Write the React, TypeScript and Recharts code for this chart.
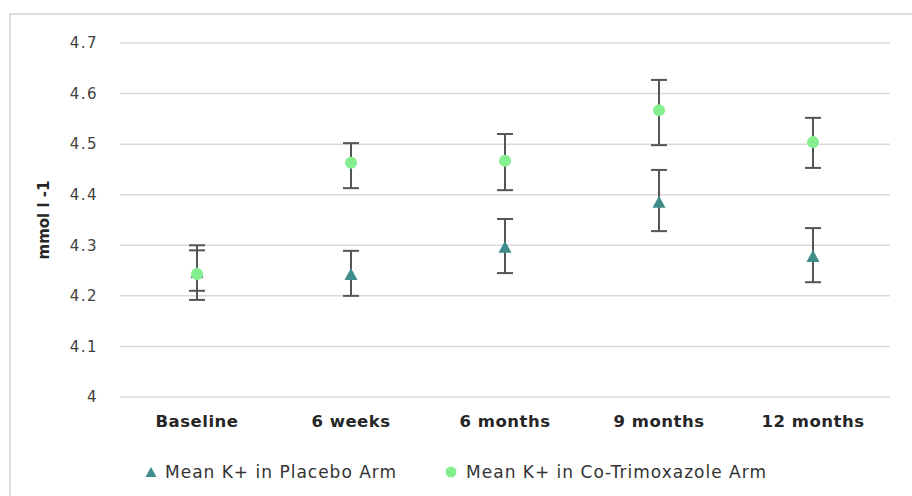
import React from "react";
import {
  CartesianGrid,
  ErrorBar,
  Line,
  LineChart,
  XAxis,
  YAxis,
} from "recharts";

const categories = ["Baseline", "6 weeks", "6 months", "9 months", "12 months"];
const placebo = [4.245, 4.241, 4.295, 4.384, 4.277];
const placeboLow = [4.192, 4.2, 4.245, 4.328, 4.227];
const placeboHigh = [4.29, 4.289, 4.352, 4.449, 4.334];
const cotrim = [4.243, 4.463, 4.467, 4.567, 4.504];
const cotrimLow = [4.21, 4.413, 4.409, 4.498, 4.453];
const cotrimHigh = [4.3, 4.502, 4.52, 4.627, 4.552];
const yTicks = [4, 4.1, 4.2, 4.3, 4.4, 4.5, 4.6, 4.7];

const data = categories.map((name, i) => ({
  name,
  placebo: placebo[i],
  placeboErr: [placebo[i] - placeboLow[i], placeboHigh[i] - placebo[i]],
  cotrim: cotrim[i],
  cotrimErr: [cotrim[i] - cotrimLow[i], cotrimHigh[i] - cotrim[i]],
}));

const TEAL = "#3f8d8b";
const GREEN = "#85ee8e";
const FONT = "'DejaVu Sans', Verdana, sans-serif";

const Triangle = (props: any) => {
  const { cx, cy } = props;
  if (cx == null || cy == null) return null;
  return (
    <path
      d={`M${cx},${cy - 7} L${cx + 6.5},${cy + 5} L${cx - 6.5},${cy + 5} Z`}
      fill={TEAL}
    />
  );
};

const Circle = (props: any) => {
  const { cx, cy } = props;
  if (cx == null || cy == null) return null;
  return <circle cx={cx} cy={cy} r={6} fill={GREEN} />;
};

export default function App() {
  return (
    <div style={{ position: "absolute", left: 0, top: 0, width: 912, height: 496, background: "#fff", overflow: "hidden" }}>
      <div
        style={{
          position: "absolute",
          left: 9,
          top: 13,
          width: 920,
          height: 500,
          border: "2px solid #dcdcdc",
        }}
      />
      <LineChart
        width={912}
        height={496}
        data={data}
        margin={{ top: 43, right: 22, bottom: 59, left: 60 }}
        style={{ position: "absolute", left: 0, top: 0 }}
      >
        <CartesianGrid vertical={false} stroke="#d9d9d9" strokeWidth={1.5} />
        <XAxis
          dataKey="name"
          height={40}
          padding={{ left: 77, right: 77 }}
          axisLine={false}
          tickLine={false}
          tickMargin={12}
          tick={{ fill: "#262626", fontSize: 16.5, fontWeight: "bold", fontFamily: FONT, letterSpacing: 0.5 }}
        />
        <YAxis
          domain={[4, 4.7]}
          ticks={yTicks}
          width={60}
          axisLine={false}
          tickLine={false}
          tickMargin={16}
          tick={{ fill: "#404040", fontSize: 15, fontFamily: FONT, letterSpacing: 1.5 }}
          label={{
            value: "mmol l -1",
            angle: -90,
            position: "left",
            offset: 16,
            style: { fill: "#262626", fontSize: 15, fontWeight: "bold", fontFamily: FONT, textAnchor: "middle" },
          }}
        />
        <Line
          dataKey="placebo"
          stroke="none"
          isAnimationActive={false}
          dot={<Triangle />}
          activeDot={false}
        >
          <ErrorBar dataKey="placeboErr" width={8} stroke="#555" strokeWidth={2} direction="y" />
        </Line>
        <Line
          dataKey="cotrim"
          stroke="none"
          isAnimationActive={false}
          dot={<Circle />}
          activeDot={false}
        >
          <ErrorBar dataKey="cotrimErr" width={8} stroke="#555" strokeWidth={2} direction="y" />
        </Line>
      </LineChart>
      <div
        style={{
          position: "absolute",
          left: 145,
          top: 462,
          display: "flex",
          alignItems: "center",
          fontFamily: FONT,
          fontSize: 17,
          letterSpacing: 1,
          color: "#333",
          lineHeight: "20px",
        }}
      >
        <svg width={12} height={12} style={{ marginRight: 8 }}>
          <path d="M6,1 L11.5,11 L0.5,11 Z" fill={TEAL} />
        </svg>
        <span style={{ marginRight: 48 }}>Mean K+ in Placebo Arm</span>
        <svg width={12} height={12} style={{ marginRight: 9 }}>
          <circle cx={6} cy={6} r={5.5} fill={GREEN} />
        </svg>
        <span>Mean K+ in Co-Trimoxazole Arm</span>
      </div>
    </div>
  );
}
